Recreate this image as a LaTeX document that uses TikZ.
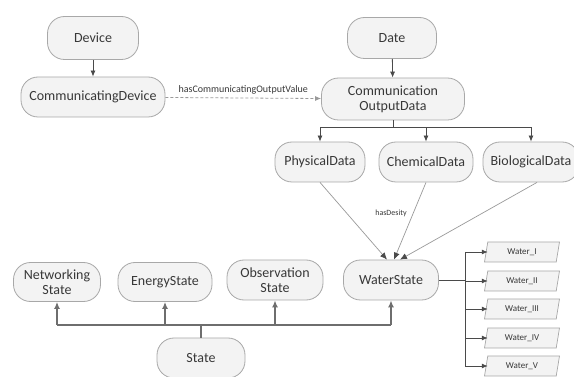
\documentclass[tikz,border=0pt]{standalone}
\usepackage{fontspec}
\setmainfont{Carlito}
\usetikzlibrary{arrows.meta,shapes.geometric,calc}
\definecolor{nodefill}{HTML}{F3F3F3}
\definecolor{nodeline}{HTML}{A8A8A8}
\definecolor{txt}{HTML}{383838}
\definecolor{edge}{HTML}{4A4A4A}
\definecolor{busline}{HTML}{6E6E6E}
\definecolor{thinline}{HTML}{9A9A9A}
\tikzset{
  rbox/.style={draw=nodeline, fill=nodefill, rounded corners=17pt, line width=0.8pt,
    text=txt, font=\fontsize{14}{15}\selectfont, align=center, inner sep=2pt},
  wbox/.style={trapezium, trapezium left angle=70, trapezium right angle=110,
    draw=nodeline, fill=nodefill, line width=0.7pt, text=txt,
    font=\fontsize{9}{10}\selectfont, minimum width=75pt, minimum height=20pt,
    trapezium stretches body, inner sep=1pt},
  arr/.style={draw=edge, line width=0.8pt, -{Latex[length=6pt,width=5pt]}},
  busarr/.style={draw=busline, line width=1.6pt, -{Latex[length=7pt,width=6pt]}},
  bus/.style={draw=busline, line width=1.6pt},
  thinarr/.style={draw=thinline, line width=0.7pt, -{Latex[length=7pt,width=6pt,color=edge,fill=edge]}},
  lbl/.style={text=txt, font=\fontsize{10}{11}\selectfont, inner sep=1pt}
}
\begin{document}
\begin{tikzpicture}[x=1pt,y=-1pt]
\useasboundingbox[fill=white] (0,0) rectangle (574,377);
% nodes
\node[rbox, minimum width=91pt, minimum height=43pt] (dev) at (93,38) {Device};
\node[rbox, minimum width=144pt, minimum height=40pt] (cdev) at (93,97) {CommunicatingDevice};
\node[rbox, minimum width=89pt, minimum height=41pt] (date) at (392,38) {Date};
\node[rbox, minimum width=143pt, minimum height=42pt] (cod) at (393,99) {Communication\\OutputData};
\node[rbox, minimum width=90pt, minimum height=40pt] (phys) at (320,162) {PhysicalData};
\node[rbox, minimum width=94pt, minimum height=40pt] (chem) at (426,162) {ChemicalData};
\node[rbox, minimum width=96pt, minimum height=40pt] (bio) at (531,162) {BiologicalData};
\node[rbox, minimum width=95pt, minimum height=40pt] (ws) at (391,280) {WaterState};
\node[rbox, minimum width=87pt, minimum height=39pt] (net) at (57,282) {Networking\\State};
\node[rbox, minimum width=94pt, minimum height=39pt] (en) at (165,282) {EnergyState};
\node[rbox, minimum width=96pt, minimum height=40pt] (obs) at (275,280) {Observation\\State};
\node[rbox, minimum width=88pt, minimum height=40pt] (st) at (201,358) {State};
\node[wbox] (w1) at (522,252) {Water\_I};
\node[wbox] (w2) at (522,281) {Water\_II};
\node[wbox] (w3) at (522,309) {Water\_III};
\node[wbox] (w4) at (522,338) {Water\_IV};
\node[wbox] (w5) at (522,366) {Water\_V};
% top edges
\draw[arr] (dev) -- (cdev);
\draw[arr] (date) -- (cod);
\draw[arr, densely dashed, draw=thinline] (cdev) -- node[lbl, above=2pt] {hasCommunicatingOutputValue} (cod);
% data tree
\coordinate (cb) at (393,127);
\draw[draw=edge, line width=0.8pt] (cod.south) -- (cb);
\draw[arr] (cb) -| (phys.north);
\draw[arr] (cb) -| (chem.north);
\draw[arr] (cb) -| (bio.north);
% to water state
\coordinate (wa) at ($(ws.north)+(-4,0)$);
\coordinate (wb) at ($(ws.north)+(3,0)$);
\coordinate (wc) at ($(ws.north)+(9,0)$);
\draw[thinarr] (phys.south) -- (wa);
\draw[thinarr] (chem.south) -- (wb);
\draw[thinarr] ($(bio.south)+(6,0)$) -- (wc);
\node[lbl, font=\fontsize{8}{9}\selectfont] (hd) at (391,213) {hasDesity};
% water bus
\coordinate (wt) at (465,252);
\coordinate (wbm) at (465,366);
\draw[draw=edge, line width=0.8pt] (ws.east) -- (465,280);
\draw[draw=edge, line width=0.8pt] (wt) -- (wbm);
\foreach \w in {w1,w2,w3,w4,w5} {
  \draw[arr] (wt |- \w.west) -- ($(\w.west)+(2,0)$);
}
% state bus
\coordinate (sb) at (201,325);
\draw[bus] (st.north) -- (sb);
\draw[bus] (net.south |- sb) -- (ws.south |- sb);
\draw[busarr] (net.south |- sb) -- (net.south);
\draw[busarr] (en.south |- sb) -- (en.south);
\draw[busarr] (obs.south |- sb) -- (obs.south);
\draw[busarr] (ws.south |- sb) -- (ws.south);
\end{tikzpicture}
\end{document}
